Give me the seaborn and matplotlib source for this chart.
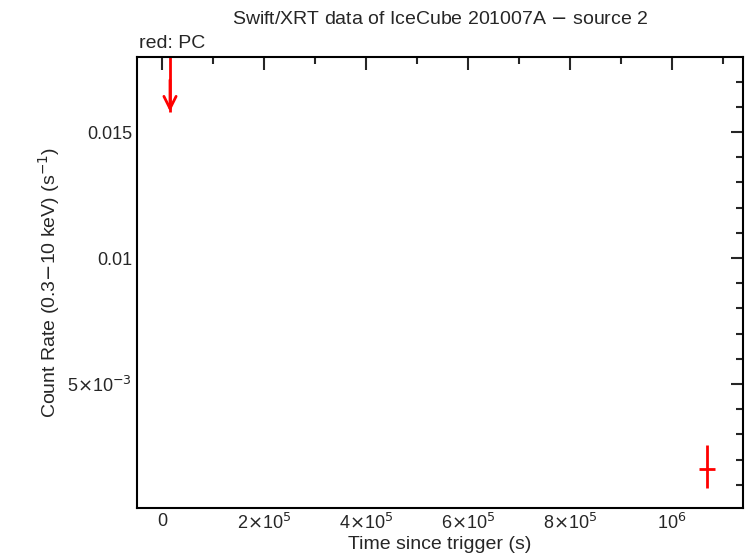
import matplotlib
matplotlib.use('Agg')
import matplotlib.pyplot as plt
import matplotlib.ticker as mticker
import seaborn as sns

# PC detection
pc_time = [1.069e6]
pc_time_err = [1.6e4]
pc_rate = [0.00163]
pc_rate_lo = [0.00076]
pc_rate_hi = [0.00095]

# PC upper limit
ul_time = [1.57e4]
ul_time_err = [0.0]
ul_rate = [0.01718]

xticks = [0, 2e5, 4e5, 6e5, 8e5, 1e6]
xlabels = ['0', r'2$\times$10$^5$', r'4$\times$10$^5$', r'6$\times$10$^5$', r'8$\times$10$^5$', r'10$^6$']
yticks = [0.005, 0.01, 0.015]
ylabels = [r'5$\times$10$^{-3}$', '0.01', '0.015']

sns.set_style('white')
plt.rcParams['font.family'] = ['Liberation Sans', 'DejaVu Sans']

fig = plt.figure(figsize=(7.46, 5.58), dpi=100)
ax = fig.add_axes([137/746, 1 - 508/558, (743-137)/746, (508-57)/558])

ax.errorbar(pc_time, pc_rate, xerr=pc_time_err, yerr=[pc_rate_lo, pc_rate_hi],
            fmt='none', ecolor='red', elinewidth=2, capsize=0)
ax.errorbar(ul_time, ul_rate, xerr=ul_time_err, yerr=[[0.0014]], uplims=False, lolims=False,
            fmt='none', ecolor='red', elinewidth=2, capsize=0)
ax.annotate('', xy=(ul_time[0], ul_rate[0] - 0.00148), xytext=(ul_time[0], ul_rate[0]),
            arrowprops=dict(arrowstyle='->', color='red', lw=2, mutation_scale=22))

ax.set_xlim(-4.9e4, 1.139e6)
ax.set_ylim(0.00008, 0.01798)
ax.set_xticks(xticks)
ax.set_xticklabels(xlabels)
ax.set_yticks(yticks)
ax.set_yticklabels(ylabels)
ax.xaxis.set_minor_locator(mticker.MultipleLocator(1e5))
ax.yaxis.set_minor_locator(mticker.MultipleLocator(0.001))
ax.tick_params(which='both', direction='in', top=True, right=True, labelsize=13, width=1.5)
ax.tick_params(which='major', length=9)
ax.tick_params(which='minor', length=5)
for s in ax.spines.values():
    s.set_linewidth(1.5)
    s.set_color('black')

ax.set_xlabel('Time since trigger (s)', fontsize=14, labelpad=2)
ax.set_ylabel(r'Count Rate (0.3$-$10 keV) (s$^{-1}$)', fontsize=14)
fig.text(440/746, 1 - 20/558, r'Swift/XRT data of IceCube 201007A $-$ source 2', ha='center', va='center', fontsize=14)
fig.text(139/746, 1 - 43/558, 'red: PC', ha='left', va='center', fontsize=14)

fig.savefig('out.png', dpi=100)
